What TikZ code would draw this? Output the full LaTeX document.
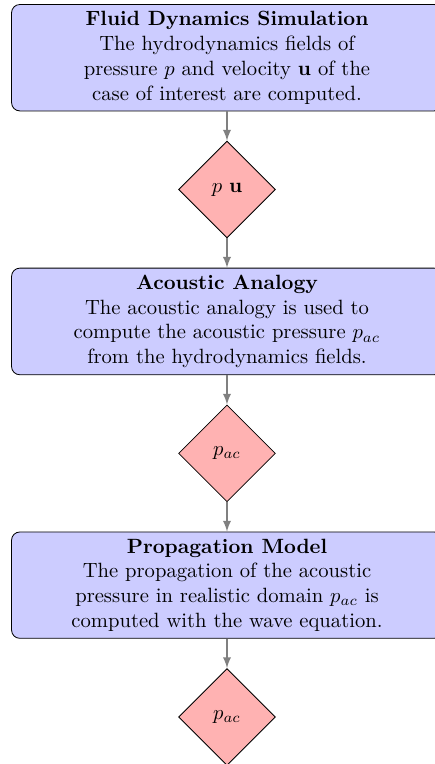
\documentclass[tikz,border=0pt]{standalone}
\usepackage{amsmath}
\usepackage{amssymb}
\usepackage{xcolor}
\usetikzlibrary{shapes,arrows,positioning}

\begin{document}
\begin{tikzpicture}[
    node distance=0.5cm,
    block/.style={rectangle, draw, fill=blue!20, rounded corners, align=center,
        minimum width=7.34cm},
    decision/.style={diamond, draw, fill=red!30, minimum size=1.65cm, inner sep=0pt},
    line/.style={draw, thick, gray, -latex}
]
    % Stages and their outputs
    \node[block] (fluid) {\textbf{Fluid Dynamics Simulation}\\
        The hydrodynamics fields of\\
        pressure $p$ and velocity $\mathbf{u}$ of the\\
        case of interest are computed.};
    \node[decision, below=of fluid] (fields) {$p$ $\mathbf{u}$};
    \node[block, below=of fields] (analogy) {\textbf{Acoustic Analogy}\\
        The acoustic analogy is used to\\
        compute the acoustic pressure $p_{ac}$\\
        from the hydrodynamics fields.};
    \node[decision, below=of analogy] (source) {$p_{ac}$};
    \node[block, below=of source] (propag) {\textbf{Propagation Model}\\
        The propagation of the acoustic\\
        pressure in realistic domain $p_{ac}$ is\\
        computed with the wave equation.};
    \node[decision, below=of propag] (result) {$p_{ac}$};

    % Connectors
    \path[line] (fluid) -- (fields);
    \path[line] (fields) -- (analogy);
    \path[line] (analogy) -- (source);
    \path[line] (source) -- (propag);
    \path[line] (propag) -- (result);

    % Margins
    \pgfresetboundingbox
    \useasboundingbox ([shift={(-0.19cm,0.07cm)}]fluid.north west)
        rectangle ([shift={(3.54cm,0.03cm)}]result.south);
\end{tikzpicture}
\end{document}
